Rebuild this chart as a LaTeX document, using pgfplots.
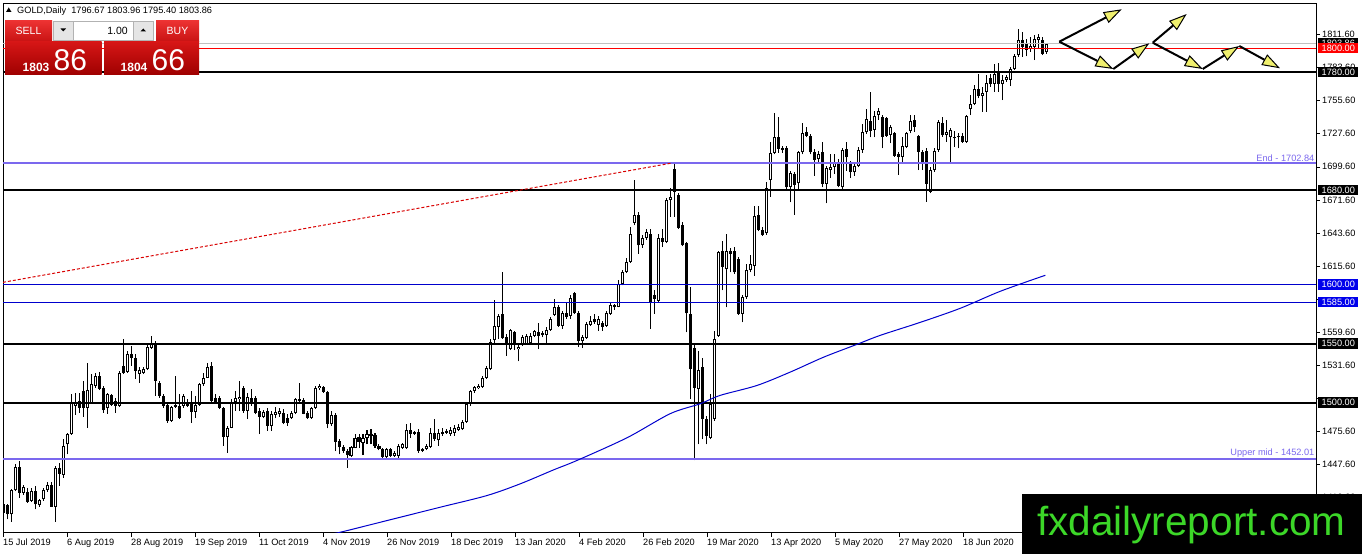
\documentclass[border=0pt]{standalone}
\usepackage{fontspec}
\setmainfont{Liberation Sans}
\usepackage{pgfplots}
\pgfplotsset{compat=1.18}
\usepackage{pgfplotstable}
\usetikzlibrary{arrows.meta}

\definecolor{mtviolet}{RGB}{123,104,238}
\definecolor{mtblue}{RGB}{0,0,205}
\definecolor{boxblue}{RGB}{0,0,235}
\definecolor{curgray}{RGB}{192,192,192}
\definecolor{wmgreen}{RGB}{60,215,40}
\definecolor{arrowyel}{RGB}{240,240,110}
\definecolor{btntop}{RGB}{236,50,50}
\definecolor{btnbot}{RGB}{200,18,18}
\definecolor{bigtop}{RGB}{214,22,22}
\definecolor{bigbot}{RGB}{158,0,0}

% daily bars: index, open, high, low, close
\pgfplotstableread{
x o h l c
0 1414.4 1419.5 1405.9 1406.8
1 1413.3 1413.8 1401.1 1405.4
2 1405.4 1426.5 1399.2 1425.7
3 1425.7 1447.7 1425.1 1445.5
4 1445.5 1450.6 1419.5 1423.7
5 1423.7 1430.2 1422.0 1428.5
6 1424.3 1428.0 1415.3 1416.1
7 1416.7 1428.0 1416.1 1425.1
8 1425.1 1429.4 1409.6 1413.8
9 1413.3 1418.1 1411.9 1417.2
10 1418.1 1428.0 1416.7 1425.7
11 1425.7 1433.1 1424.3 1430.2
12 1430.2 1433.1 1411.6 1411.9
13 1411.9 1446.3 1399.2 1444.9
14 1444.9 1449.2 1429.4 1439.8
15 1438.7 1468.9 1436.4 1463.3
16 1464.7 1474.6 1456.2 1473.2
17 1473.2 1507.1 1472.6 1500.0
18 1497.2 1508.5 1489.5 1500.0
19 1501.4 1508.5 1491.5 1495.8
20 1509.9 1518.4 1487.9 1495.8
21 1495.8 1533.9 1478.8 1510.5
22 1500.0 1524.0 1499.2 1515.5
23 1514.1 1525.4 1512.7 1522.6
24 1522.6 1526.3 1510.5 1511.3
25 1512.1 1514.1 1491.5 1493.5
26 1495.2 1508.5 1490.7 1507.1
27 1506.5 1507.1 1497.2 1498.0
28 1501.4 1504.2 1491.5 1497.2
29 1497.2 1526.8 1496.3 1525.4
30 1531.1 1553.7 1524.0 1525.4
31 1526.3 1543.8 1525.4 1541.5
32 1541.0 1548.0 1531.1 1537.6
33 1538.1 1541.0 1519.8 1526.8
34 1524.6 1530.2 1516.9 1527.4
35 1525.4 1530.2 1524.0 1528.2
36 1528.2 1549.4 1527.4 1547.2
37 1546.6 1556.5 1545.2 1550.8
38 1550.8 1552.3 1505.6 1518.4
39 1516.9 1518.4 1504.2 1505.6
40 1505.6 1507.1 1495.2 1497.2
41 1498.0 1500.0 1483.1 1484.5
42 1484.5 1497.2 1483.9 1496.3
43 1496.3 1522.6 1495.2 1498.0
44 1497.2 1507.6 1485.9 1486.7
45 1497.2 1507.6 1495.2 1505.6
46 1500.0 1502.8 1496.3 1497.2
47 1499.2 1509.9 1483.1 1492.4
48 1492.4 1505.6 1487.3 1498.0
49 1498.0 1516.9 1497.2 1516.1
50 1515.5 1525.4 1514.1 1521.2
51 1521.2 1533.9 1520.6 1530.2
52 1531.1 1534.5 1500.8 1501.4
53 1504.2 1507.1 1500.0 1500.8
54 1504.2 1505.6 1494.4 1495.8
55 1495.2 1496.3 1463.3 1470.9
56 1470.9 1480.2 1457.6 1478.8
57 1478.8 1502.8 1478.2 1500.0
58 1500.8 1509.9 1492.9 1504.2
59 1502.8 1518.4 1492.9 1505.1
60 1512.7 1514.1 1491.5 1492.9
61 1492.9 1508.5 1485.9 1505.1
62 1504.2 1511.3 1497.2 1500.0
63 1504.2 1505.6 1490.1 1491.5
64 1492.9 1495.8 1473.2 1487.9
65 1487.9 1493.5 1486.7 1492.4
66 1492.9 1495.8 1476.0 1480.2
67 1480.2 1492.9 1476.0 1490.1
68 1489.5 1496.3 1486.7 1492.4
69 1490.7 1495.2 1487.9 1492.9
70 1491.5 1494.4 1481.6 1483.1
71 1486.7 1490.1 1480.2 1483.1
72 1486.7 1492.9 1485.9 1491.5
73 1491.5 1504.2 1490.1 1502.8
74 1501.4 1516.9 1500.0 1502.8
75 1502.0 1504.2 1490.1 1490.7
76 1491.5 1492.9 1485.9 1486.7
77 1486.7 1496.3 1485.9 1495.2
78 1495.2 1514.1 1494.4 1512.1
79 1512.1 1515.5 1510.5 1514.1
80 1513.3 1514.1 1508.5 1509.3
81 1509.3 1509.9 1478.2 1482.2
82 1481.6 1492.9 1480.2 1489.5
83 1489.5 1491.5 1459.0 1466.9
84 1467.5 1468.9 1456.2 1462.0
85 1462.0 1464.0 1457.6 1459.0
86 1459.0 1460.5 1444.9 1455.6
87 1454.8 1463.3 1454.0 1462.4
88 1461.9 1473.7 1461.3 1470.3
89 1470.9 1473.7 1461.9 1466.9
90 1466.1 1473.7 1455.6 1470.3
91 1470.3 1476.6 1464.7 1473.2
92 1472.0 1477.4 1464.7 1472.6
93 1472.6 1474.6 1461.9 1463.3
94 1463.3 1464.7 1459.6 1460.5
95 1460.5 1461.9 1453.4 1454.0
96 1454.0 1461.9 1452.0 1460.5
97 1460.5 1461.3 1454.0 1454.8
98 1454.8 1459.0 1454.0 1457.6
99 1454.8 1465.3 1452.0 1463.3
100 1461.9 1466.1 1460.5 1464.7
101 1461.3 1481.6 1460.5 1476.6
102 1476.6 1483.1 1470.3 1473.7
103 1474.6 1476.0 1472.6 1473.7
104 1475.4 1477.4 1457.6 1459.0
105 1460.5 1461.9 1458.5 1459.0
106 1460.5 1464.7 1459.6 1463.3
107 1462.4 1478.2 1461.9 1474.6
108 1474.6 1485.9 1467.5 1468.9
109 1468.1 1477.4 1463.3 1474.6
110 1473.7 1478.8 1471.8 1474.6
111 1474.6 1477.4 1473.2 1475.4
112 1473.7 1479.4 1471.8 1476.6
113 1474.6 1481.1 1471.8 1478.8
114 1476.6 1481.6 1476.0 1479.4
115 1477.4 1485.0 1476.6 1483.9
116 1483.9 1500.0 1483.1 1499.2
117 1499.2 1510.5 1497.2 1509.9
118 1509.9 1514.1 1508.5 1513.3
119 1512.1 1515.5 1511.3 1514.1
120 1513.3 1522.6 1512.7 1521.2
121 1520.6 1531.1 1519.8 1529.1
122 1528.2 1553.7 1527.4 1551.7
123 1552.8 1586.7 1550.8 1565.0
124 1564.1 1575.4 1553.7 1573.4
125 1574.9 1610.2 1553.7 1554.5
126 1555.6 1557.9 1539.5 1550.8
127 1545.3 1562.3 1544.5 1561.5
128 1559.5 1560.9 1544.5 1549.6
129 1545.3 1549.6 1534.8 1547.3
130 1549.6 1557.5 1548.2 1555.8
131 1549.6 1558.1 1549.0 1556.7
132 1550.1 1558.6 1549.0 1556.7
133 1556.7 1561.5 1555.2 1560.3
134 1559.5 1567.1 1545.3 1556.7
135 1557.5 1560.9 1555.2 1558.6
136 1557.5 1563.7 1550.1 1561.5
137 1561.5 1572.8 1560.9 1570.8
138 1574.5 1587.8 1573.7 1581.3
139 1581.3 1582.2 1564.3 1565.2
140 1565.2 1577.9 1562.3 1575.6
141 1575.6 1585.0 1570.8 1572.8
142 1573.7 1590.7 1570.8 1588.7
143 1592.6 1593.5 1575.1 1575.6
144 1575.6 1577.9 1547.3 1551.8
145 1551.8 1557.5 1546.2 1555.2
146 1554.7 1568.0 1553.8 1566.6
147 1566.0 1573.7 1565.2 1568.8
148 1570.8 1575.1 1566.6 1568.0
149 1566.0 1573.7 1560.9 1570.8
150 1567.1 1569.4 1560.9 1564.3
151 1565.2 1577.9 1564.3 1575.6
152 1575.1 1585.0 1574.5 1583.0
153 1582.2 1583.6 1578.5 1580.7
154 1581.3 1603.4 1580.7 1600.6
155 1600.6 1611.9 1599.2 1610.5
156 1610.5 1622.7 1609.6 1619.0
157 1619.0 1648.7 1618.1 1642.4
158 1652.1 1688.4 1650.1 1658.6
159 1658.6 1661.5 1626.1 1633.1
160 1633.1 1641.6 1631.2 1639.7
161 1639.7 1647.3 1638.0 1644.5
162 1643.0 1647.3 1562.3 1585.0
163 1591.5 1594.9 1575.1 1587.8
164 1586.4 1643.0 1585.0 1639.7
165 1639.7 1647.3 1631.7 1636.0
166 1636.0 1672.8 1635.1 1671.4
167 1671.4 1681.3 1657.2 1674.2
168 1697.5 1702.5 1657.2 1678.5
169 1675.6 1677.1 1647.3 1648.2
170 1650.1 1653.0 1632.3 1633.1
171 1635.1 1636.0 1559.5 1575.6
172 1575.4 1597.5 1503.0 1528.2
173 1546.6 1550.8 1451.0 1512.7
174 1511.3 1543.8 1464.7 1527.4
175 1529.7 1538.0 1468.9 1485.9
176 1485.9 1488.7 1464.7 1471.8
177 1470.3 1507.0 1468.9 1498.6
178 1485.9 1560.7 1484.5 1553.7
179 1556.5 1628.5 1555.6 1627.1
180 1628.5 1637.0 1595.0 1615.0
181 1613.0 1642.7 1580.5 1628.5
182 1628.5 1630.8 1610.2 1625.7
183 1628.5 1631.4 1608.8 1610.2
184 1621.5 1622.9 1574.3 1575.4
185 1575.4 1591.2 1567.8 1589.5
186 1589.0 1617.2 1587.6 1612.1
187 1612.1 1625.1 1610.2 1617.2
188 1615.8 1666.7 1607.3 1658.2
189 1659.0 1666.7 1644.9 1646.0
190 1646.0 1648.3 1641.2 1642.1
191 1643.2 1687.0 1642.1 1681.6
192 1688.4 1720.3 1674.3 1711.6
193 1711.6 1745.0 1710.2 1725.1
194 1725.1 1741.5 1711.6 1714.7
195 1715.5 1717.5 1711.6 1713.8
196 1715.5 1717.5 1679.4 1682.2
197 1682.8 1696.3 1669.5 1694.1
198 1693.5 1694.9 1659.0 1684.5
199 1685.6 1713.3 1679.4 1711.9
200 1711.9 1736.4 1710.2 1728.0
201 1728.8 1733.1 1724.6 1726.0
202 1726.0 1727.4 1710.2 1711.9
203 1711.9 1714.7 1692.1 1705.4
204 1706.2 1713.3 1703.4 1710.5
205 1711.9 1720.3 1682.2 1685.0
206 1685.0 1700.6 1668.6 1698.6
207 1696.9 1710.2 1690.1 1699.7
208 1699.7 1710.2 1693.5 1703.4
209 1702.5 1706.2 1682.2 1683.6
210 1682.2 1715.5 1680.8 1713.8
211 1714.7 1720.3 1696.3 1707.6
212 1702.5 1704.8 1690.1 1694.9
213 1694.9 1703.4 1692.1 1700.6
214 1700.6 1716.1 1699.2 1713.8
215 1713.8 1735.9 1711.6 1728.8
216 1728.8 1748.6 1727.4 1740.1
217 1738.7 1762.7 1724.6 1730.2
218 1730.8 1747.2 1724.6 1742.9
219 1743.4 1749.0 1739.2 1747.0
220 1742.0 1743.4 1715.2 1725.1
221 1740.6 1742.0 1725.1 1725.6
222 1726.5 1734.9 1719.4 1733.5
223 1727.9 1729.3 1708.2 1708.7
224 1710.4 1712.4 1692.7 1708.2
225 1708.2 1725.1 1702.5 1717.2
226 1716.6 1729.3 1715.2 1727.9
227 1730.1 1743.4 1727.9 1738.6
228 1739.2 1743.4 1729.0 1733.5
229 1725.6 1726.5 1696.9 1712.4
230 1712.4 1713.8 1696.9 1702.0
231 1713.2 1715.2 1670.1 1685.1
232 1678.6 1699.7 1677.2 1696.9
233 1696.9 1715.2 1695.5 1713.2
234 1713.8 1739.2 1712.4 1737.7
235 1736.9 1742.0 1725.1 1726.5
236 1726.5 1739.2 1720.8 1729.3
237 1724.5 1732.1 1703.9 1730.7
238 1725.1 1730.1 1716.6 1723.7
239 1724.5 1727.9 1715.2 1725.6
240 1725.6 1727.9 1720.0 1720.8
241 1720.8 1743.4 1720.0 1742.5
242 1748.2 1760.3 1743.4 1752.7
243 1753.2 1768.7 1751.8 1765.9
244 1765.9 1778.6 1757.5 1759.4
245 1759.4 1767.3 1746.2 1762.3
246 1763.1 1777.2 1746.2 1770.7
247 1774.4 1778.6 1767.3 1770.1
248 1770.1 1787.0 1763.1 1778.6
249 1780.0 1787.6 1763.1 1769.6
250 1769.6 1777.2 1756.1 1773.5
251 1773.0 1777.2 1771.5 1775.8
252 1773.5 1784.2 1767.9 1782.8
253 1782.8 1795.5 1781.4 1793.2
254 1794.1 1816.6 1792.7 1807.3
255 1807.3 1813.8 1792.7 1801.1
256 1803.4 1808.2 1793.2 1798.9
257 1799.7 1809.6 1796.9 1801.7
258 1801.1 1811.0 1789.9 1808.2
259 1807.3 1812.4 1799.7 1809.6
260 1807.3 1809.6 1794.1 1795.5
261 1796.67 1803.96 1795.40 1803.86
}\candles

\begin{document}
\begin{tikzpicture}[x=1pt,y=1pt]
\path[use as bounding box, fill=white] (0,0) rectangle (1362,554);
\begin{axis}[
  at={(3pt,21.5pt)}, anchor=south west, scale only axis,
  width=1313pt, height=529.5pt,
  xmin=0, xmax=328.25, ymin=1390, ymax=1838.3,
  axis line style={black, line width=0.8pt},
  tick align=outside, major tick length=4pt,
  tick style={black, line width=0.6pt},
  xtick pos=left, ytick pos=right, yticklabel pos=right,
  xtick={0,16,32,48,64,80,96,112,128,144,160,176,192,208,224,240},
  xticklabels={15 Jul 2019, 6 Aug 2019, 28 Aug 2019, 19 Sep 2019, 11 Oct 2019, 4 Nov 2019, 26 Nov 2019, 18 Dec 2019, 13 Jan 2020, 4 Feb 2020, 26 Feb 2020, 19 Mar 2020, 13 Apr 2020, 5 May 2020, 27 May 2020, 18 Jun 2020},
  xticklabel style={anchor=north west, inner sep=0pt, yshift=-2pt, font=\fontsize{9.2}{10}\selectfont},
  ytick={1419.6,1447.6,1475.6,1503.6,1531.6,1559.6,1587.6,1615.6,1643.6,1671.6,1699.6,1727.6,1755.6,1783.6,1811.6},
  yticklabels={1419.60,1447.60,1475.60,,1531.60,1559.60,,1615.60,1643.60,1671.60,1699.60,1727.60,1755.60,1783.60,1811.60},
  yticklabel style={anchor=west, inner sep=0pt, xshift=2pt, font=\fontsize{9.2}{10}\selectfont},
]
% wicks
\addplot[draw=none, mark=none, error bars/.cd, y dir=plus, y explicit, error mark=none,
  error bar style={draw=black, line width=1pt}]
  table[x=x, y=l, y error expr=\thisrow{h}-\thisrow{l}] {\candles};
% bodies
\addplot[draw=none, mark=none, error bars/.cd, y dir=plus, y explicit, error mark=none,
  error bar style={draw=black, line width=3pt}]
  table[x=x, y expr={min(\thisrow{o},\thisrow{c})}, y error expr={max(abs(\thisrow{c}-\thisrow{o}),1)}] {\candles};
% hollow inside of rising bodies
\addplot[draw=none, mark=none, error bars/.cd, y dir=plus, y explicit, error mark=none,
  error bar style={draw=white, line width=1pt}]
  table[x=x, y expr={\thisrow{o}+0.85}, y error expr={max(\thisrow{c}-\thisrow{o}-1.7,0)}] {\candles};

% levels
\addplot[curgray, line width=1pt] coordinates {(-5,1803.86) (340,1803.86)};
\addplot[red, line width=1pt] coordinates {(-5,1800) (340,1800)};
\addplot[black, line width=2pt] coordinates {(-5,1780) (340,1780)};
\addplot[mtviolet, line width=1.8pt] coordinates {(-5,1702.84) (340,1702.84)};
\addplot[black, line width=2pt] coordinates {(-5,1680) (340,1680)};
\addplot[mtblue, line width=1pt] coordinates {(-5,1600) (340,1600)};
\addplot[mtblue, line width=1pt] coordinates {(-5,1585) (340,1585)};
\addplot[black, line width=2pt] coordinates {(-5,1550) (340,1550)};
\addplot[black, line width=2pt] coordinates {(-5,1500) (340,1500)};
\addplot[mtviolet, line width=1.8pt] coordinates {(-5,1452.01) (340,1452.01)};

% trend line
\addplot[red!85!black, line width=1pt, dash pattern=on 3pt off 2pt]
  coordinates {(0,1601.8) (167.3,1702.84)};

% moving average
\addplot[mtblue, line width=1pt, smooth] coordinates {
  (81.5,1388.5) (84.3,1390.2) (96.0,1400.1) (109.3,1411.4) (121.0,1421.3)
  (129.3,1431.2) (137.7,1443.1) (143.5,1451.0) (156.0,1470.2) (166.8,1490.6)
  (174.3,1499.0) (179.3,1506.1) (188.5,1514.5) (196.8,1525.8) (205.2,1538.5)
  (213.5,1549.3) (219.3,1556.9) (229.3,1567.9) (239.3,1579.8) (249.3,1594.2)
  (260.6,1607.8)};

\node[anchor=south east, inner sep=1.5pt, text=mtviolet, font=\fontsize{9.2}{10}\selectfont]
  at (axis cs:328.25,1702.84) {End - 1702.84};
\node[anchor=south east, inner sep=1.5pt, text=mtviolet, font=\fontsize{9.2}{10}\selectfont]
  at (axis cs:328.25,1452.01) {Upper mid - 1452.01};

\coordinate (q1803) at (axis cs:328.25,1803.86);
\coordinate (q1800) at (axis cs:328.25,1800);
\coordinate (q1780) at (axis cs:328.25,1780);
\coordinate (q1680) at (axis cs:328.25,1680);
\coordinate (q1600) at (axis cs:328.25,1600);
\coordinate (q1585) at (axis cs:328.25,1585);
\coordinate (q1550) at (axis cs:328.25,1550);
\coordinate (q1500) at (axis cs:328.25,1500);
\end{axis}

\tikzset{pricebox/.style={anchor=west, xshift=2pt, inner xsep=3.5pt, inner ysep=0pt,
  minimum height=10.5pt, text=white, font=\fontsize{9.2}{10}\selectfont}}
\node[pricebox, fill=black] at (q1803) {1803.86};
\node[pricebox, fill=red] at (q1800) {1800.00};
\node[pricebox, fill=black] at (q1780) {1780.00};
\node[pricebox, fill=black] at (q1680) {1680.00};
\node[pricebox, fill=boxblue] at (q1600) {1600.00};
\node[pricebox, fill=boxblue] at (q1585) {1585.00};
\node[pricebox, fill=black] at (q1550) {1550.00};
\node[pricebox, fill=black] at (q1500) {1500.00};

% overlays in screen pixels (y downwards)
\begin{scope}[x=1pt, y=-1pt, yshift=554pt]
  % header
  \fill[black] (6,12) -- (11.5,12) -- (8.75,7.5) -- cycle;
  \node[anchor=base west, inner sep=0pt, font=\fontsize{9.2}{10}\selectfont] at (17,14)
    {GOLD,Daily\ \ 1796.67 1803.96 1795.40 1803.86};
  % trade panel
  \shade[top color=btntop, bottom color=btnbot] (5,21) rectangle (52,42);
  \shade[top color=btntop, bottom color=btnbot] (156,21) rectangle (199,42);
  \draw[red!40!white, line width=0.6pt] (9,41.5) -- (48,41.5);
  \draw[red!40!white, line width=0.6pt] (160,41.5) -- (195,41.5);
  \shade[top color=bigtop, bottom color=bigbot] (5,42) rectangle (101.5,75);
  \shade[top color=bigtop, bottom color=bigbot] (104,42) rectangle (199,75);
  \filldraw[fill=white, draw=gray!60, line width=0.6pt] (53,21) rectangle (153,40);
  \filldraw[fill=gray!20, draw=gray!60, line width=0.6pt] (53,21) rectangle (73,40);
  \filldraw[fill=gray!20, draw=gray!60, line width=0.6pt] (133,21) rectangle (153,40);
  \fill[black] (60.5,28.5) -- (66,28.5) -- (63.25,31.5) -- cycle;
  \fill[black] (140.5,31.5) -- (146,31.5) -- (143.25,28.5) -- cycle;
  \node[anchor=base east, inner sep=0pt, font=\fontsize{10.5}{11}\selectfont] at (128,34.5) {1.00};
  \node[anchor=base, inner sep=0pt, text=white, font=\fontsize{10.5}{11}\selectfont] at (28.5,35) {SELL};
  \node[anchor=base, inner sep=0pt, text=white, font=\fontsize{10.5}{11}\selectfont] at (177.5,35) {BUY};
  \node[anchor=base west, inner sep=0pt, text=white, font=\bfseries\fontsize{12}{12}\selectfont] at (22.5,71.5) {1803};
  \node[anchor=base west, inner sep=0pt, text=white, font=\fontsize{30}{30}\selectfont] at (53.5,70.5) {86};
  \node[anchor=base west, inner sep=0pt, text=white, font=\bfseries\fontsize{12}{12}\selectfont] at (120.5,71.5) {1804};
  \node[anchor=base west, inner sep=0pt, text=white, font=\fontsize{30}{30}\selectfont] at (151.5,70.5) {66};
  % scenario arrows
  \tikzset{scen/.style={line width=2pt, black,
    -{Triangle[length=18pt, width=12pt, fill=arrowyel, line width=1pt]}}}
  \draw[scen] (1059.3,41.7) -- (1121.7,9.3);
  \draw[scen] (1059.3,41.7) -- (1113.3,69);
  \draw[scen] (1113.3,69) -- (1149.3,43.3);
  \draw[scen] (1152.7,42.7) -- (1186.7,14);
  \draw[scen] (1152.7,42.7) -- (1202.7,69);
  \draw[scen] (1202.7,69) -- (1239.3,46);
  \draw[scen] (1239.3,46) -- (1280,68.3);
  % watermark
  \fill[black] (1022,494) rectangle (1362,554);
  \node[anchor=base west, inner sep=0pt, text=wmgreen, font=\fontsize{40.5}{41}\selectfont] at (1037,535) {fxdailyreport.com};
\end{scope}
\end{tikzpicture}
\end{document}
